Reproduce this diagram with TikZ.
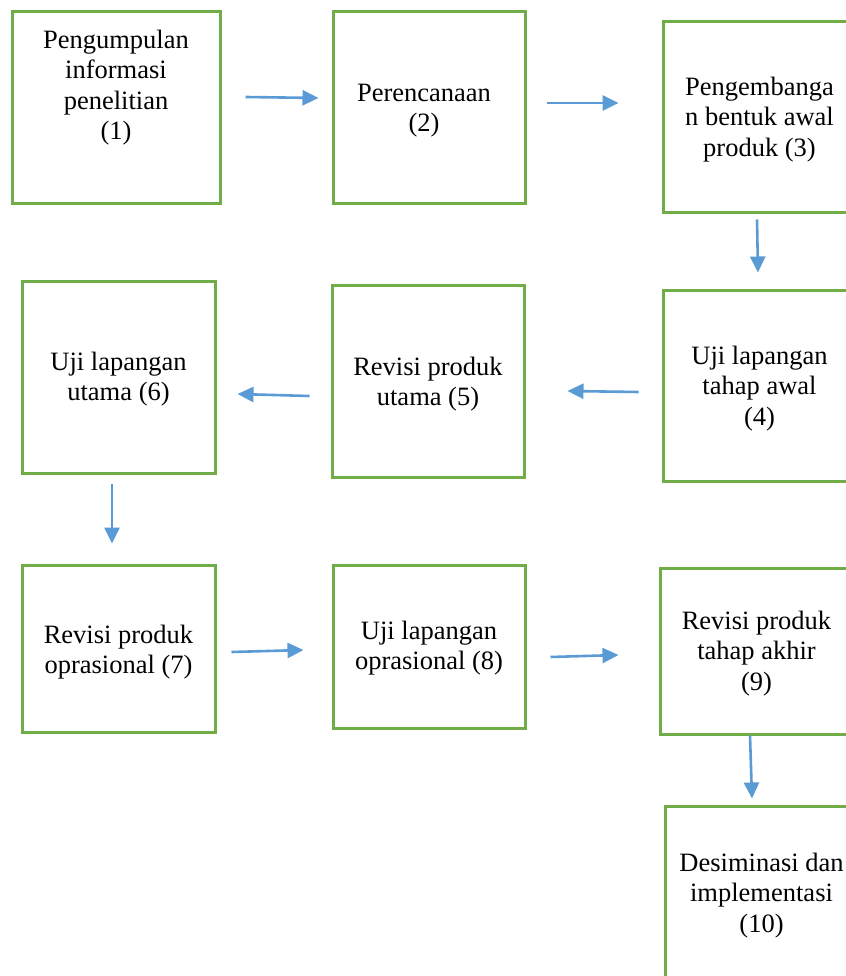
\documentclass[tikz,border=0pt]{standalone}
\usepackage{fontspec}
\setmainfont{Liberation Serif}
\usetikzlibrary{arrows.meta,positioning}
\definecolor{boxgreen}{HTML}{70AD47}
\definecolor{flowblue}{HTML}{5B9BD5}

\begin{document}
\begin{tikzpicture}[x=1pt,y=-1pt,
  stepbox/.style={draw=boxgreen, line width=3pt, inner sep=0pt},
  boxtext/.style={font=\fontsize{26.5}{30.5}\selectfont, align=center, inner sep=0pt},
  flow/.style={draw=flowblue, line width=2.6pt, -{Triangle[length=16pt,width=15pt]}}]
\useasboundingbox (0,0) rectangle (845,976);

% first row
\node[stepbox, minimum width=208pt, minimum height=192pt] (b1) at (116,108) {};
\node[stepbox, minimum width=192pt, minimum height=192pt] (b2) at (429,108) {};
\node[stepbox, minimum width=193pt, minimum height=191pt] (b3) at (759.5,117.5) {};
\node[boxtext, below=19pt of b1.north] (t1) {Pengumpulan\\informasi\\penelitian\\(1)};
\node[boxtext, below=73pt of b2.north, xshift=-5pt] (t2) {Perencanaan\\(2)};
\node[boxtext, below=56pt of b3.north] (t3) {Pengembanga\\n bentuk awal\\produk (3)};

% second row
\node[stepbox, minimum width=193pt, minimum height=191pt] (b4) at (759.5,385.5) {};
\node[stepbox, minimum width=192pt, minimum height=192pt] (b5) at (428,381) {};
\node[stepbox, minimum width=193pt, minimum height=192pt] (b6) at (118.5,377) {};
\node[boxtext, below=57pt of b4.north] (t4) {Uji lapangan\\tahap awal\\(4)};
\node[boxtext, below=73pt of b5.north] (t5) {Revisi produk\\utama (5)};
\node[boxtext, below=72pt of b6.north] (t6) {Uji lapangan\\utama (6)};

% third row
\node[stepbox, minimum width=193pt, minimum height=167pt] (b7) at (118.5,648.5) {};
\node[stepbox, minimum width=192pt, minimum height=163pt] (b8) at (429,646.5) {};
\node[stepbox, minimum width=193pt, minimum height=166pt] (b9) at (756.5,651) {};
\node[stepbox, minimum width=193pt, minimum height=194pt] (b10) at (761.5,903) {};
\node[boxtext, below=61pt of b7.north] (t7) {Revisi produk\\oprasional (7)};
\node[boxtext, below=57pt of b8.north] (t8) {Uji lapangan\\oprasional (8)};
\node[boxtext, below=44pt of b9.north] (t9) {Revisi produk\\tahap akhir\\(9)};
\node[boxtext, below=48pt of b10.north] (t10) {Desiminasi dan\\implementasi\\(10)};

% arrows
\draw[flow] ([shift={(24,-11)}]b1.east) -- ([shift={(-13,-10)}]b2.west);
\draw[flow] ([shift={(20,-5)}]b2.east) -- ([shift={(-43,-14.5)}]b3.west);
\draw[flow] ([shift={(-2.5,5)}]b3.south) -- ([shift={(-1.5,-16)}]b4.north);
\draw[flow] ([shift={(-23,6.5)}]b4.west) -- ([shift={(42,10)}]b5.east);
\draw[flow] ([shift={(-21,15)}]b5.west) -- ([shift={(21,17)}]b6.east);
\draw[flow] ([shift={(-6.5,9)}]b6.south) -- ([shift={(-6.5,-20)}]b7.north);
\draw[flow] ([shift={(15,3.5)}]b7.east) -- ([shift={(-28,3.5)}]b8.west);
\draw[flow] ([shift={(24,10.5)}]b8.east) -- ([shift={(-40,4)}]b9.west);
\draw[flow] ([shift={(-6.5,0)}]b9.south) -- ([shift={(-9.5,-6)}]b10.north);
\end{tikzpicture}
\end{document}
